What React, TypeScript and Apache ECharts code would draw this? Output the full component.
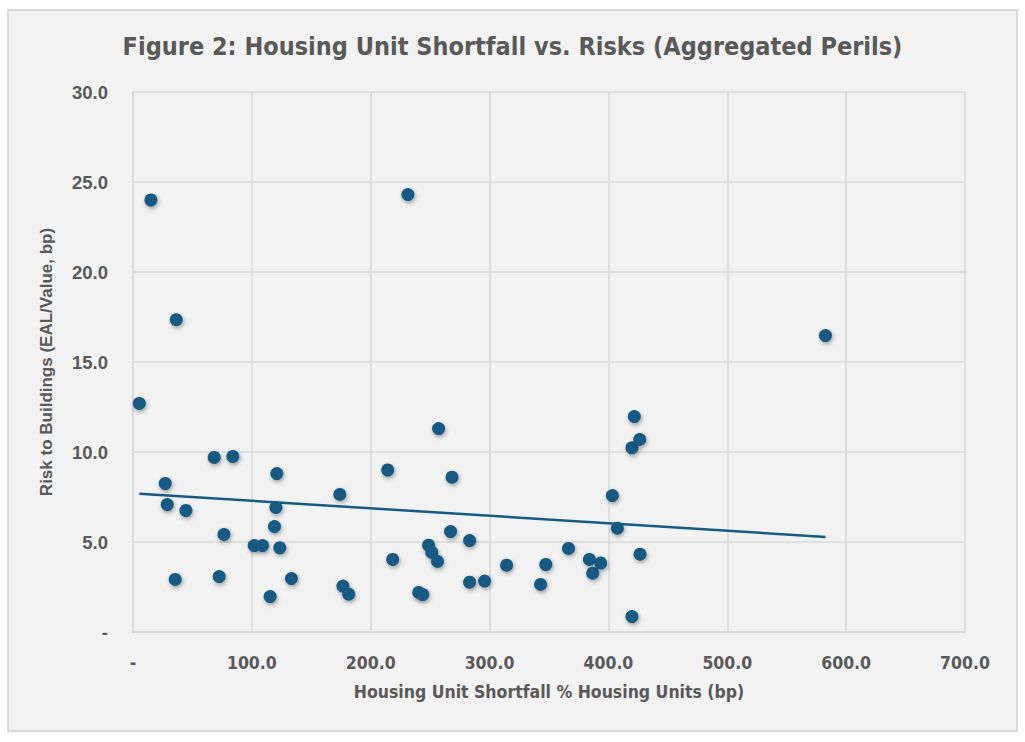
import React, { useEffect, useRef } from "react";
import * as echarts from "echarts";

// Housing Unit Shortfall % Housing Units (bp)
const shortfall = [
  5.3, 15.1, 27.1, 28.8, 35.5, 36.4, 44.5, 68.3, 72.5, 76.5, 84.0, 102, 109, 115.4, 119, 120.2, 121,
  123.5, 133.3, 174, 176.6, 181.5, 214.3, 218.5, 231.3, 240.4, 243.8, 248.7, 251.4, 256.2, 257.1,
  267.2, 268.4, 283.2, 283.2, 295.8, 314.3, 342.9, 347.3, 366.4, 384, 386.8, 393.5, 403.3, 407.5,
  419.8, 419.8, 421.8, 426.3, 426.6, 582.6,
];
// Risk to Buildings (EAL/Value, bp)
const risk = [
  12.7, 24.0, 8.25, 7.08, 2.92, 17.35, 6.75, 9.7, 3.08, 5.42, 9.75, 4.8, 4.8, 1.97, 5.86, 6.92, 8.8,
  4.68, 2.97, 7.64, 2.55, 2.1, 9.0, 4.03, 24.3, 2.2, 2.08, 4.82, 4.42, 3.92, 11.3, 5.58, 8.6, 5.08,
  2.77, 2.83, 3.71, 2.64, 3.75, 4.64, 4.03, 3.27, 3.83, 7.58, 5.77, 10.23, 0.86, 11.97, 10.7, 4.32,
  16.47,
];

const xTicks = [0, 100, 200, 300, 400, 500, 600, 700];
const yTicks = [0, 5, 10, 15, 20, 25, 30];

const TITLE = "Figure 2: Housing Unit Shortfall vs. Risks (Aggregated Perils)";
const X_NAME = "Housing Unit Shortfall % Housing Units (bp)";
const Y_NAME = "Risk to Buildings (EAL/Value, bp)";

const NARROW = "'Liberation Sans Narrow', 'DejaVu Sans Condensed', 'Arial Narrow', Roboto, sans-serif";
const ARIAL = "'Liberation Sans', Arial, sans-serif";
const TEXT = "#595959";
const BLUE = "#175a83";

function linearFit(xs: number[], ys: number[]) {
  const n = xs.length;
  const mx = xs.reduce((a, b) => a + b, 0) / n;
  const my = ys.reduce((a, b) => a + b, 0) / n;
  let sxy = 0;
  let sxx = 0;
  for (let i = 0; i < n; i++) {
    sxy += (xs[i] - mx) * (ys[i] - my);
    sxx += (xs[i] - mx) * (xs[i] - mx);
  }
  const b = sxy / sxx;
  const a = my - b * mx;
  return { a, b };
}

export default function App() {
  const ref = useRef<HTMLDivElement>(null);
  useEffect(() => {
    if (!ref.current) return;
    const chart = echarts.init(ref.current, undefined, { renderer: "svg" });
    const points = shortfall.map((x, i) => [x, risk[i]]);
    const { a, b } = linearFit(shortfall, risk);
    const xMin = Math.min(...shortfall);
    const xMax = Math.max(...shortfall);
    const trend = [
      [xMin, a + b * xMin],
      [xMax, a + b * xMax],
    ];
    const fmt = (v: number) => (v === 0 ? "-" : v.toFixed(1));
    chart.setOption({
      animation: false,
      backgroundColor: "transparent",
      title: {
        text: TITLE,
        left: "center",
        top: 29,
        textStyle: { fontFamily: NARROW, fontSize: 25, fontWeight: "bold", color: TEXT },
      },
      grid: { left: 133, right: 60, top: 92, bottom: 110, containLabel: false },
      xAxis: {
        type: "value",
        min: xTicks[0],
        max: xTicks[xTicks.length - 1],
        interval: 100,
        name: X_NAME,
        nameLocation: "middle",
        nameGap: 51,
        nameTextStyle: { fontFamily: NARROW, fontSize: 17.5, fontWeight: "bold", color: TEXT },
        axisLine: { show: true, lineStyle: { color: "#d9d9d9", width: 1.5 } },
        axisTick: { show: false },
        splitLine: { show: true, lineStyle: { color: "#d9d9d9", width: 1.5 } },
        axisLabel: {
          formatter: fmt,
          margin: 22,
          fontFamily: NARROW,
          fontSize: 17.5,
          fontWeight: "bold",
          color: TEXT,
        },
      },
      yAxis: {
        type: "value",
        min: yTicks[0],
        max: yTicks[yTicks.length - 1],
        interval: 5,
        name: Y_NAME,
        nameLocation: "middle",
        nameGap: 78,
        nameTextStyle: { fontFamily: ARIAL, fontSize: 17, fontWeight: "bold", color: TEXT },
        axisLine: { show: true, lineStyle: { color: "#d9d9d9", width: 1.5 } },
        axisTick: { show: false },
        splitLine: { show: true, lineStyle: { color: "#d9d9d9", width: 1.5 } },
        axisLabel: {
          formatter: fmt,
          margin: 25,
          fontFamily: ARIAL,
          fontSize: 18.5,
          fontWeight: "bold",
          color: TEXT,
        },
      },
      series: [
        {
          type: "line",
          data: trend,
          showSymbol: false,
          symbol: "none",
          lineStyle: { color: BLUE, width: 2.5 },
          z: 2,
        },
        {
          type: "scatter",
          data: points,
          symbol: "circle",
          symbolSize: 13,
          itemStyle: {
            color: BLUE,
            opacity: 1,
            shadowBlur: 4,
            shadowColor: "rgba(0,0,0,0.35)",
            shadowOffsetX: 1,
            shadowOffsetY: 2,
          },
          emphasis: { disabled: true },
          z: 3,
        },
      ],
    });
    return () => chart.dispose();
  }, []);
  return (
    <>
      <div
        style={{
          position: "fixed",
          left: 7,
          top: 9,
          width: 1007,
          height: 719,
          border: "2px solid #d9d9d9",
          background: "#f2f2f2",
        }}
      />
      <div ref={ref} style={{ position: "fixed", left: 0, top: 0, width: 1025, height: 742 }} />
    </>
  );
}
